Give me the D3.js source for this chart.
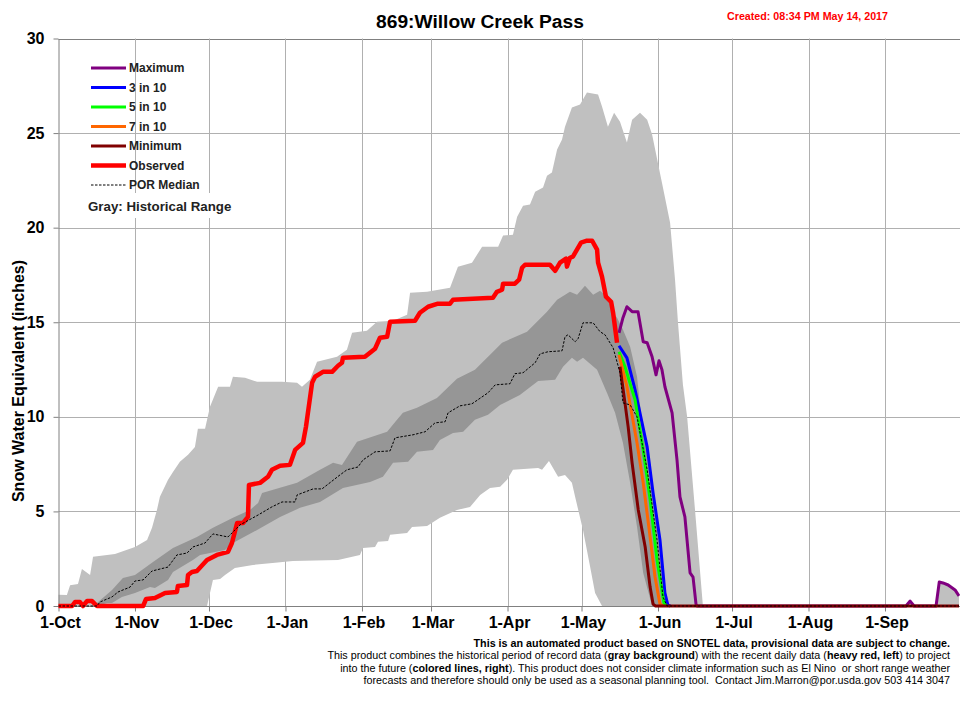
<!DOCTYPE html>
<html>
<head>
<meta charset="utf-8">
<script src="https://cdn.jsdelivr.net/npm/d3@7"></script>
<style>
  html, body { margin: 0; padding: 0; background: #fff; }
  svg { display: block; }
  text { font-family: "Liberation Sans", Arial, sans-serif; }
</style>
</head>
<body>
<svg id="chart" width="960" height="714"></svg>
<script>
// all series are [day of water year, inches], day 0 is 1-Oct
const monthDays = [0, 31, 61, 92, 123, 151, 182, 212, 243, 273, 304, 335];
const monthLabels = ['1-Oct', '1-Nov', '1-Dec', '1-Jan', '1-Feb', '1-Mar', '1-Apr', '1-May', '1-Jun', '1-Jul', '1-Aug', '1-Sep'];
const yTicks = [0, 5, 10, 15, 20, 25, 30];

const rangeMax = [[0,0],[0,0.6],[3.4,0.58],[4.7,1.1],[7.9,1.16],[9.5,1.96],[12.8,1.64],[14,2.6],[22.9,2.75],[31,3.12],[35.9,3.49],[37.9,4.13],[39.9,5.08],[41.1,5.77],[44.4,6.67],[46.4,7.09],[49.2,7.62],[52.5,7.99],[55.3,8.41],[56.5,9.37],[59.4,9.37],[61.4,10.53],[64.7,11.59],[69.5,11.59],[70.7,12.12],[75.6,12.06],[80.5,11.85],[90.6,11.85],[96.7,11.8],[98.7,11.59],[101.9,11.96],[104.8,12.91],[112.9,13.17],[116.9,13.54],[119,14.44],[125,14.55],[129.1,15.03],[135.6,15.08],[141.3,15.4],[142.5,16.56],[149.4,16.61],[158.7,16.83],[161.9,17.94],[167.6,18.15],[171.7,18.99],[178.2,18.99],[180.2,19.58],[184.2,19.63],[185.9,20.58],[188.3,21.16],[191.1,21.22],[193.2,21.9],[196.4,22.12],[198,22.75],[200,22.91],[202.1,24.13],[204.1,24.66],[205.3,25.34],[208.1,26.35],[211.4,26.51],[214.2,27.14],[218.7,27.04],[220.3,26.4],[222.7,25.34],[225.2,26.08],[227.6,25.6],[230.4,24.5],[232.5,25.7],[235.7,26.08],[238.6,25.7],[240.6,24.92],[244.6,22.38],[247.9,20.26],[249.9,17.25],[251.1,14.97],[253.1,11.69],[254.8,10],[258,5.08],[261.2,0],[343.5,0],[345.2,0.26],[346.8,0],[355.7,0],[357,1.27],[358.5,1.22],[360.6,1.11],[363.4,0.85],[365,0.53],[365,0]];
const rangeMin = [[60.2,0],[61.4,0.69],[62.6,1.38],[65.5,1.43],[67.5,1.64],[71.5,2.01],[78.8,2.17],[87.8,2.28],[95,2.38],[113.3,2.43],[122.2,2.7],[123.4,3.07],[128.3,3.12],[129.5,3.39],[133.6,3.44],[134.4,3.76],[141.3,3.86],[143.3,4.18],[149.4,4.23],[154.6,4.66],[161.5,5.08],[166.8,5.24],[170.9,5.87],[174.9,6.24],[179,6.3],[181.8,6.67],[184.2,7.2],[194.4,7.3],[196,7.2],[198.8,7.67],[202.5,6.83],[205.3,6.93],[208.1,6.51],[209.4,5.77],[212.6,4.02],[215.5,2.06],[217.5,0.69],[220.3,0]];

const bandUpper = [[14.8,0],[15.6,0.16],[21.7,0.85],[26.1,1.48],[31,1.64],[38.3,2.33],[46.4,3.07],[56.1,3.65],[62.6,4.13],[70.7,4.66],[77.6,5.08],[80.9,5.45],[82.5,5.98],[96.7,6.51],[106,7.2],[111.3,7.57],[114.9,7.46],[121,8.68],[133.2,9.21],[137.2,9.84],[139.6,10.21],[145.3,10.48],[153.4,11],[161.5,12.01],[168.8,12.49],[174.1,13.17],[179.8,13.92],[189.9,14.5],[198,15.56],[202.1,16.19],[207.3,16.61],[210.2,16.46],[213.4,16.93],[216.7,16.46],[219.5,16.67],[222.3,16.35],[224.8,15.5],[226.4,15.24],[228.8,14.6],[231.7,13.7],[234.5,12.12],[236.5,9.68],[239.8,7.57],[241.8,5.45],[243.8,3.86],[245.8,1],[247,0]];
const bandLower = [[15.6,0],[19.7,0.16],[21.7,0.16],[25.7,0.48],[31,0.69],[37.1,1],[39.1,0.95],[44.4,1.38],[46.4,1.8],[54.5,2.43],[57.4,2.7],[67.5,2.96],[70.7,3.33],[80.5,4.02],[89.8,4.71],[97.9,5.19],[106,5.5],[115.3,6.24],[126.3,6.56],[131.5,6.83],[135.6,7.57],[141.7,7.62],[145.3,8.15],[151.8,8.25],[154.6,8.78],[159.9,9.15],[164,9.21],[168.8,9.84],[174.1,10.11],[179,10.63],[187,11.16],[194.4,11.9],[201.3,11.96],[204.5,12.65],[208.1,13.12],[210.2,12.91],[212.6,13.12],[218.3,12.49],[222.3,11.27],[225.6,10.21],[228.8,8.62],[231.7,6.51],[234.5,4.18],[237,1.75],[240.6,0]];

const observed = [[0,0],[5.5,0],[6.7,0.21],[8.7,0.21],[9.9,0],[11.6,0.26],[13.6,0.26],[15.6,0],[34.3,0],[35.5,0.37],[39.1,0.42],[43.2,0.69],[48,0.74],[48.4,1.06],[52.1,1.11],[52.5,1.64],[54.1,1.8],[56.1,1.85],[60.2,2.43],[64.2,2.7],[68.7,2.86],[70.3,3.33],[72.4,4.39],[74.8,4.39],[76.8,4.71],[77.2,6.4],[81.7,6.51],[84.9,6.83],[86.5,7.2],[89.8,7.41],[93.8,7.46],[95.9,8.25],[99.1,8.62],[100.3,9.47],[102.8,11.8],[104,12.12],[107.2,12.38],[110.9,12.38],[113.3,12.7],[114.9,12.86],[115.3,13.12],[124.2,13.17],[128.3,13.6],[130.3,14.18],[133.2,14.23],[134.4,15.03],[144.5,15.08],[146.5,15.5],[149.8,15.82],[153.8,15.98],[158.7,15.98],[159.9,16.19],[168,16.24],[176.1,16.3],[177.7,16.61],[179.8,16.72],[180.2,17.04],[185,17.04],[186.7,17.25],[187.9,17.88],[189.1,18.04],[199.2,18.04],[201.3,17.72],[203.3,18.15],[205.7,18.36],[206.1,17.94],[207.3,18.41],[208.5,18.47],[211.8,19.21],[214.2,19.31],[216.3,19.31],[218.3,18.84],[218.7,18.15],[220.3,17.41],[221.9,16.35],[224,16.08],[224.8,15.5],[226.4,13.92]];

const porMedian = [[0,0],[15.6,0],[16.8,0.21],[21.7,0.48],[24.1,0.74],[29,1],[31,1.32],[34.3,1.38],[37.9,1.85],[44.4,2.06],[48,2.7],[52.1,2.8],[54.5,3.12],[59.4,3.33],[62.6,3.81],[68.7,3.65],[73.6,4.29],[80.9,4.81],[86.5,5.24],[90.6,5.5],[95.9,5.5],[96.7,5.87],[103.2,6.19],[106.8,6.19],[114.1,6.93],[116.9,7.2],[121.4,7.35],[123.4,7.72],[128.3,8.15],[134.4,8.2],[136.4,8.89],[143.7,9.05],[148.6,9.21],[152.6,9.68],[156.7,9.74],[157.9,10.21],[162.7,10.58],[167.6,10.69],[174.1,11.27],[177,11.69],[183,11.75],[185,12.28],[188.3,12.33],[193.2,12.86],[195.2,13.33],[198.4,13.44],[204.1,13.49],[205.3,14.23],[206.5,14.34],[209.4,13.97],[210.6,14.13],[212.6,14.97],[216.7,14.97],[219.5,14.5],[221.5,14.34],[224.8,13.65],[227.6,12.33],[228.8,10.74],[231.7,10.63],[234.5,10],[238.6,7.2],[242.6,3.49],[245,0.48],[246.7,0],[365,0]];

const maximum = [[227.2,14.44],[228.8,15.24],[230.4,15.82],[232.5,15.56],[234.9,15.56],[237,13.97],[238.6,13.92],[240.6,13.17],[242.2,12.22],[243.4,12.96],[244.6,12.49],[245.8,11.59],[248.7,10.21],[250.7,7.72],[251.9,5.77],[253.9,4.71],[256,1.75],[257.2,1.53],[258.4,0.1],[258.8,0],[343.5,0],[345.2,0.26],[346.8,0],[355.7,0],[357,1.27],[358.5,1.22],[360.6,1.11],[363.4,0.85],[365,0.53]];
const in3of10 = [[227.2,13.76],[230.4,13.12],[233.7,11.43],[238.6,8.41],[241,5.98],[243.8,3.49],[245.8,0.69],[247,0.05],[248,0]];
const in5of10 = [[227.2,13.44],[229.6,12.65],[233.7,10.9],[237,8.25],[239.8,5.61],[242.6,2.43],[245.4,0.16],[246.5,0]];
const in7of10 = [[227.2,13.28],[230.4,11.59],[234.5,8.62],[237,6.51],[239.8,3.65],[241.8,1.53],[243.8,0.1],[245,0]];
const minimum = [[227.6,12.65],[229.6,10.74],[230.9,9.47],[232.5,7.57],[235,5.08],[237.8,3.12],[239.8,1],[241,0.1],[242,0],[365,0]];

const legendNames = ['Maximum', '3 in 10', '5 in 10', '7 in 10', 'Minimum', 'Observed', 'POR Median'];
const legendColors = ['#800080', '#0000ff', '#00ff00', '#ff6600', '#800000', '#ff0000', '#000000'];
const legendWidths = [3, 3, 3, 3, 3, 4.5, 1];

const footerLines = [
  [['This is an automated product based on SNOTEL data, provisional data are subject to change.', true]],
  [['This product combines the historical period of record data (', false], ['gray background', true], [') with the recent daily data (', false], ['heavy red, left', true], [') to project', false]],
  [['into the future (', false], ['colored lines, right', true], ['). This product does not consider climate information such as El Nino  or short range weather', false]],
  [['forecasts and therefore should only be used as a seasonal planning tool.  Contact Jim.Marron@por.usda.gov 503 414 3047', false]]
];

const svg = d3.select('#chart');

const x = d3.scaleLinear().domain([0, 365]).range([58.5, 959]);
const y = d3.scaleLinear().domain([0, 30]).range([606, 38.5]);

const line = d3.line().x((d) => x(d[0])).y((d) => y(d[1]));


function drawBand(upper, lower, color) {
  svg.append('path')
    .attr('d', line(upper.concat(lower.slice().reverse())) + 'Z')
    .attr('fill', color);
}


function drawLine(data, color, width, dash) {
  svg.append('path')
    .attr('d', line(data))
    .attr('fill', 'none')
    .attr('stroke', color)
    .attr('stroke-width', width)
    .attr('stroke-dasharray', dash)
    .attr('stroke-linejoin', 'round');
}


// grid
svg.append('g').selectAll('line')
  .data(yTicks.slice(1)).enter()
  .append('line')
  .attr('x1', x(0)).attr('x2', 960)
  .attr('y1', (d) => Math.round(y(d)) + 0.5).attr('y2', (d) => Math.round(y(d)) + 0.5)
  .attr('stroke', (d) => d === 30 ? '#808080' : '#b0b0b0');

svg.append('g').selectAll('line')
  .data(monthDays.slice(1)).enter()
  .append('line')
  .attr('x1', (d) => Math.round(x(d)) + 0.5).attr('x2', (d) => Math.round(x(d)) + 0.5)
  .attr('y1', y(30)).attr('y2', y(0))
  .attr('stroke', '#b0b0b0');

// white box behind the gray note covers the grid
svg.append('rect')
  .attr('x', 85).attr('y', 193).attr('width', 150).attr('height', 25)
  .attr('fill', '#fff');

drawBand(rangeMax, rangeMin, '#c0c0c0');
drawBand(bandUpper, bandLower, '#969696');

// axes
const xAxis = d3.axisBottom(x)
  .tickValues(monthDays)
  .tickFormat((d, i) => monthLabels[i])
  .tickSize(5)
  .tickSizeOuter(0);

const yAxis = d3.axisLeft(y)
  .tickValues(yTicks)
  .tickSize(5)
  .tickSizeOuter(0);

const xG = svg.append('g').attr('transform', 'translate(0,606.5)').call(xAxis);
const yG = svg.append('g').attr('transform', 'translate(58.5,0)').call(yAxis);

xG.select('.domain').attr('stroke', '#808080').attr('d', 'M58.5,0H960');
yG.select('.domain').attr('stroke', '#808080');
xG.selectAll('.tick line').attr('stroke', '#808080');
yG.selectAll('.tick line').attr('stroke', '#808080');
xG.selectAll('.tick text')
  .attr('dx', 1.5).attr('y', 10)
  .attr('font-size', 16).attr('font-weight', 'bold')
  .attr('font-family', '"Liberation Sans", Arial, sans-serif').attr('fill', '#000');
yG.selectAll('.tick text')
  .attr('x', -14)
  .attr('font-size', 16).attr('font-weight', 'bold')
  .attr('font-family', '"Liberation Sans", Arial, sans-serif').attr('fill', '#000');

// forecast and observed lines
drawLine(maximum, legendColors[0], legendWidths[0]);
drawLine(in3of10, legendColors[1], legendWidths[1]);
drawLine(in5of10, legendColors[2], legendWidths[2]);
drawLine(in7of10, legendColors[3], legendWidths[3]);
drawLine(minimum, legendColors[4], legendWidths[4]);
drawLine(observed, legendColors[5], legendWidths[5]);
drawLine(porMedian, legendColors[6], legendWidths[6], '2.5,1.5');

// legend
const legendY = d3.scalePoint().domain(legendNames).range([68, 185]);

const legend = svg.append('g').selectAll('g')
  .data(legendNames).enter()
  .append('g')
  .attr('transform', (d) => `translate(0,${legendY(d)})`);

legend.append('line')
  .attr('x1', 91).attr('x2', 126)
  .attr('stroke', (d, i) => legendColors[i])
  .attr('stroke-width', (d, i) => legendWidths[i])
  .attr('stroke-dasharray', (d, i) => i === 6 ? '2.5,1.5' : null);

legend.append('text')
  .attr('x', 129).attr('y', 4)
  .attr('font-size', 12).attr('font-weight', 'bold')
  .attr('fill', '#222')
  .text((d) => d);

svg.append('text')
  .attr('x', 88).attr('y', 211)
  .attr('font-size', 13.3).attr('font-weight', 'bold')
  .attr('fill', '#222')
  .text('Gray: Historical Range');

// titles
svg.append('text')
  .attr('x', 480).attr('y', 28)
  .attr('text-anchor', 'middle')
  .attr('font-size', 19.2).attr('font-weight', 'bold')
  .text('869:Willow Creek Pass');

svg.append('text')
  .attr('x', 727).attr('y', 20)
  .attr('font-size', 10.7).attr('font-weight', 'bold')
  .attr('fill', '#ff0000')
  .text('Created: 08:34 PM May 14, 2017');

svg.append('text')
  .attr('transform', 'translate(24,381) rotate(-90)')
  .attr('text-anchor', 'middle')
  .attr('font-size', 16).attr('font-weight', 'bold')
  .text('Snow Water Equivalent (inches)');

// footer notes
const footerY = d3.scaleLinear().domain([0, 3]).range([647, 684]);

svg.append('g').selectAll('text')
  .data(footerLines).enter()
  .append('text')
  .attr('x', 950)
  .attr('y', (d, i) => footerY(i))
  .attr('text-anchor', 'end')
  .attr('font-size', 10.75)
  .attr('xml:space', 'preserve')
  .style('white-space', 'pre')
  .selectAll('tspan')
  .data((d) => d).enter()
  .append('tspan')
  .attr('font-weight', (d) => d[1] ? 'bold' : 'normal')
  .text((d) => d[0]);
</script>
</body>
</html>
